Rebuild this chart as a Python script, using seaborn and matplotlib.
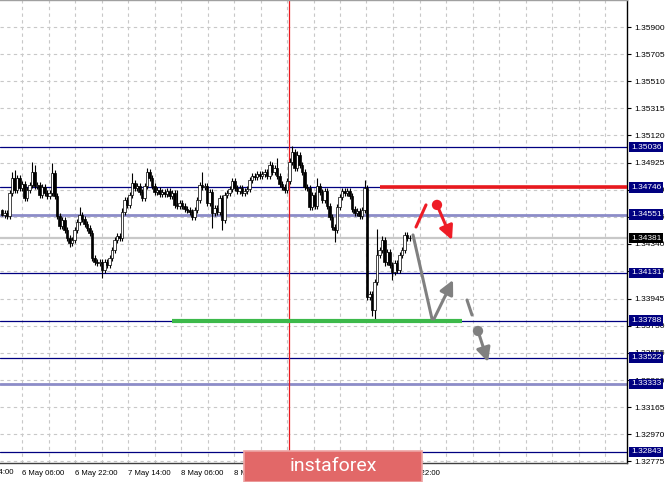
import numpy as np
import pandas as pd
import seaborn as sns
import matplotlib
matplotlib.use("Agg")
import matplotlib.pyplot as plt
from matplotlib.transforms import blended_transform_factory
from matplotlib.patches import Rectangle

# ---------------- data ----------------
first_open = 1.34584
closes = [
    1.34548, 1.34562, 1.34540, 1.34706, 1.34814, 1.34728, 1.34814, 1.34742, 1.34771, 1.34670,
    1.34728, 1.34764, 1.34857, 1.34756, 1.34764, 1.34692, 1.34749, 1.34706, 1.34684, 1.34706,
    1.34850, 1.34684, 1.34540, 1.34468, 1.34512, 1.34440, 1.34382, 1.34346, 1.34368, 1.34440,
    1.34497, 1.34548, 1.34519, 1.34483, 1.34454, 1.34418, 1.34238, 1.34209, 1.34202, 1.34209,
    1.34152, 1.34209, 1.34188, 1.34238, 1.34296, 1.34368, 1.34396, 1.34382, 1.34569, 1.34656,
    1.34620, 1.34692, 1.34778, 1.34742, 1.34756, 1.34713, 1.34670, 1.34756, 1.34857, 1.34814,
    1.34756, 1.34713, 1.34728, 1.34699, 1.34713, 1.34699, 1.34720, 1.34684, 1.34706, 1.34620,
    1.34612, 1.34634, 1.34612, 1.34591, 1.34584, 1.34569, 1.34533, 1.34584, 1.34656, 1.34764,
    1.34749, 1.34756, 1.34634, 1.34713, 1.34562, 1.34598, 1.34569, 1.34670, 1.34512, 1.34692,
    1.34706, 1.34735, 1.34792, 1.34742, 1.34720, 1.34742, 1.34706, 1.34720, 1.34735, 1.34800,
    1.34828, 1.34821, 1.34843, 1.34828, 1.34843, 1.34857, 1.34828, 1.34907, 1.34857, 1.34886,
    1.34828, 1.34771, 1.34749, 1.34728, 1.34792, 1.34929, 1.35001, 1.34886, 1.34979, 1.34907,
    1.34857, 1.34749, 1.34742, 1.34605, 1.34692, 1.34612, 1.34756, 1.34713, 1.34656, 1.34720,
    1.34612, 1.34533, 1.34461, 1.34440, 1.34605, 1.34677, 1.34720, 1.34706, 1.34720, 1.34684,
    1.34591, 1.34562, 1.34576, 1.34540, 1.34584, 1.34742, 1.33958, 1.33979, 1.33864, 1.34065,
    1.34260, 1.34296, 1.34368, 1.34209, 1.34281, 1.34188, 1.34137, 1.34202, 1.34152, 1.34260,
    1.34296, 1.34404, 1.34382, 1.34381,
]
upper_wick_pips = [
    1, 2, 2, 2, 4, 6, 2, 2, 2, 2,
    2, 2, 7, 5, 2, 2, 2, 2, 2, 2,
    7, 2, 2, 2, 2, 2, 2, 2, 2, 2,
    2, 6, 2, 2, 2, 2, 2, 2, 2, 2,
    2, 2, 2, 2, 2, 2, 2, 2, 3, 2,
    2, 2, 7, 2, 2, 2, 2, 2, 3, 2,
    2, 2, 2, 2, 2, 2, 2, 2, 2, 2,
    11, 2, 2, 2, 2, 2, 2, 2, 2, 2,
    9, 2, 2, 2, 2, 2, 2, 2, 2, 2,
    2, 2, 2, 2, 2, 2, 2, 2, 2, 2,
    2, 2, 2, 2, 2, 2, 2, 3, 2, 2,
    7, 2, 2, 2, 2, 3, 4, 2, 3, 2,
    2, 2, 2, 2, 2, 2, 6, 2, 2, 2,
    2, 2, 2, 2, 2, 2, 2, 2, 2, 2,
    2, 2, 2, 2, 2, 6, 2, 2, 2, 2,
    19, 2, 3, 2, 2, 2, 2, 2, 2, 2,
    2, 2, 2, 2,
]
lower_wick_pips = [
    1, 2, 2, 2, 2, 2, 2, 2, 2, 2,
    2, 2, 2, 2, 2, 2, 2, 2, 2, 2,
    2, 2, 2, 2, 2, 2, 2, 3, 2, 2,
    2, 2, 2, 2, 2, 2, 2, 2, 2, 2,
    6, 2, 2, 2, 2, 2, 2, 2, 2, 2,
    2, 2, 2, 2, 2, 2, 2, 2, 2, 2,
    2, 2, 2, 2, 2, 2, 2, 2, 2, 2,
    2, 2, 2, 2, 2, 2, 2, 2, 2, 2,
    2, 2, 2, 2, 11, 2, 2, 2, 7, 2,
    2, 2, 2, 2, 2, 2, 2, 2, 2, 2,
    2, 2, 2, 2, 2, 2, 2, 2, 2, 2,
    2, 2, 2, 2, 2, 2, 2, 2, 2, 2,
    2, 2, 2, 2, 2, 2, 2, 2, 2, 2,
    2, 2, 2, 9, 2, 2, 2, 2, 2, 2,
    2, 2, 2, 2, 2, 2, 2, 2, 4, 7,
    2, 2, 2, 3, 2, 2, 6, 2, 2, 2,
    2, 2, 2, 2,
]

price_ticks = [1.35900, 1.35705, 1.35510, 1.35315, 1.35120, 1.34925, 1.34730, 1.34535,
               1.34340, 1.34145, 1.33945, 1.33750, 1.33555, 1.33360, 1.33165, 1.32970, 1.32775]
time_labels = ["6 May 06:00", "6 May 22:00", "7 May 14:00", "8 May 06:00",
               "8 May 22:00", "9 May 14:00", "10 May 06:00", "10 May 22:00"]
first_partial_label = "5 May 14:00"

levels_navy = [1.35036, 1.34746, 1.34131, 1.33788, 1.33522, 1.32843]
levels_light = [1.34551, 1.33333]
current_price = 1.34381
resistance_level = 1.34746
support_level = 1.33788

# annotation paths (bar index, price)
red_stroke_x = [165.6, 169.6]
red_stroke_y = [1.34461, 1.34620]
red_dot = (174.0, 1.34620)
red_arrow_end = (180.0, 1.34368)
gray_down_x = [164.4, 172.0]
gray_down_y = [1.34404, 1.33800]
gray_up_start = (172.8, 1.33800)
gray_up_end = (180.4, 1.34080)
gray_dash_x = [186.0, 188.0]
gray_dash_y = [1.33936, 1.33828]
gray_dot = (190.4, 1.33713)
gray_arrow_end = (194.4, 1.33490)

# ---------------- figure ----------------
sns.set_style("white")
plt.rcParams["font.family"] = ["Liberation Sans", "DejaVu Sans"]

W, H = 665, 482
fig = plt.figure(figsize=(W / 100, H / 100), dpi=100)
ax_w_px, ax_h_px = 627, 463
ax = fig.add_axes([0, (H - ax_h_px) / H, ax_w_px / W, ax_h_px / H])

n = len(closes)
opens = [first_open] + closes[:-1]
df = pd.DataFrame({"bar": np.arange(n), "open": opens, "close": closes,
                   "up": upper_wick_pips, "lo": lower_wick_pips})
df["top"] = df[["open", "close"]].max(axis=1)
df["bot"] = df[["open", "close"]].min(axis=1)
df["high"] = df["top"] + df["up"] * 0.0001
df["low"] = df["bot"] - df["lo"] * 0.0001
df["bull"] = df["close"] >= df["open"]

px = 2.5  # pixels per bar
x_left = -2 / px
x_right = x_left + ax_w_px / px
y_top = 1.35900 + 27 / 13900
y_bot = 1.35900 - 436 / 13900
ax.set_xlim(x_left, x_right)
ax.set_ylim(y_bot, y_top)

# grid
maj = [8 + 21.2 * k for k in range(len(time_labels))]
grid_x = [8 + 10.6 * k for k in range(0, 24) if 8 + 10.6 * k < x_right]
for gx in grid_x:
    ax.axvline(gx, color="#c8c8c8", lw=0.8, ls=(0, (3, 3)), zorder=0)
for gy in price_ticks:
    ax.axhline(gy, color="#c8c8c8", lw=0.8, ls=(0, (3, 3)), zorder=0)

# levels
ax.axhline(current_price, color="#c8c8c8", lw=1.6, zorder=1)
for lv in levels_navy:
    ax.axhline(lv, color="#000080", lw=0.9, zorder=1)
for lv in levels_light:
    ax.axhline(lv, color="#8c8cc8", lw=2.0, zorder=1)

# time cursor
ax.axvline(114.8, color="#e8191e", lw=0.9, zorder=2)

# candles
ax.vlines(df["bar"], df["low"], df["high"], color="black", lw=0.8, zorder=3)
heights = np.maximum(df["top"] - df["bot"], 0.00002)
ax.bar(df["bar"], heights, bottom=df["bot"], width=0.85,
       color=np.where(df["bull"], "white", "black"), edgecolor="black",
       linewidth=0.5, zorder=4)

# resistance / support strokes
ax.hlines(resistance_level, 151.2, x_right, color="#e8191e", lw=2.6, zorder=5)
ax.hlines(support_level, 68.0, 184.0, color="#3cb94a", lw=3.0, zorder=5)

# scenario drawings
red = "#ee1c25"
gray = "#808080"
sns.lineplot(x=red_stroke_x, y=red_stroke_y, ax=ax, color=red, lw=2.2, zorder=6)
sns.lineplot(x=gray_down_x, y=gray_down_y, ax=ax, color=gray, lw=2.2, zorder=6)
sns.lineplot(x=gray_dash_x, y=gray_dash_y, ax=ax, color=gray, lw=2.2, zorder=6)
sns.scatterplot(x=[red_dot[0]], y=[red_dot[1]], ax=ax, color=red, s=55, edgecolor="none", zorder=7)
sns.scatterplot(x=[gray_dot[0]], y=[gray_dot[1]], ax=ax, color=gray, s=55, edgecolor="none", zorder=7)
aprops = dict(arrowstyle="-|>,head_length=0.7,head_width=0.35", lw=2.2,
              mutation_scale=12, shrinkA=0, shrinkB=0)
ax.annotate("", xy=red_arrow_end, xytext=red_dot, arrowprops=dict(color=red, **aprops), zorder=7)
ax.annotate("", xy=gray_up_end, xytext=gray_up_start, arrowprops=dict(color=gray, **aprops), zorder=7)
ax.annotate("", xy=gray_arrow_end, xytext=gray_dot, arrowprops=dict(color=gray, **aprops), zorder=7)

# axes styling
ax.spines["left"].set_visible(False)
ax.spines["top"].set_color("#a0a0a0")
ax.spines["top"].set_linewidth(1.0)
ax.spines["right"].set_color("black")
ax.spines["bottom"].set_color("#404040")
ax.spines["right"].set_linewidth(1.0)
ax.spines["bottom"].set_linewidth(1.0)

ax.yaxis.tick_right()
ax.set_yticks(price_ticks)
ax.set_yticklabels([f"{p:.5f}" for p in price_ticks])
ax.tick_params(axis="y", which="major", direction="out", length=3, width=0.8,
               labelsize=6, pad=2, colors="black")
ax.set_xticks(maj)
ax.set_xticklabels(time_labels, ha="left")
ax.tick_params(axis="x", which="major", direction="out", length=3, width=0.8,
               labelsize=5.6, pad=2, colors="black")
for lab in ax.get_xticklabels():
    lab.set_horizontalalignment("left")

trans_x = blended_transform_factory(ax.transData, ax.transAxes)
ax.text(-13.2 + 0.8, -0.012, first_partial_label, transform=trans_x, ha="left", va="top",
        fontsize=5.6, color="black", clip_on=False)

# price boxes on right
trans_y = blended_transform_factory(ax.transAxes, ax.transData)
box_x = 1 + 4 / ax_w_px
for lv in levels_navy + levels_light:
    ax.text(box_x, lv, f"{lv:.5f}", transform=trans_y, ha="left", va="center",
            fontsize=6, color="white", clip_on=False, zorder=10,
            bbox=dict(boxstyle="square,pad=0.2", fc="#000080", ec="none"))
ax.text(box_x, current_price, f"{current_price:.5f}", transform=trans_y, ha="left",
        va="center", fontsize=6, color="white", clip_on=False, zorder=10,
        bbox=dict(boxstyle="square,pad=0.2", fc="black", ec="none"))

# watermark
fig.patches.append(Rectangle((244 / W, 0), (422 - 244) / W, 31 / H, transform=fig.transFigure,
                             fc="#e26868", ec="#eda3a3", lw=1.2, zorder=20))
fig.text(333 / W, 16 / H, "instaforex", ha="center", va="center", color="white",
         fontsize=14, family=["Roboto", "DejaVu Sans"], zorder=21)

fig.savefig("out.png", dpi=100)
